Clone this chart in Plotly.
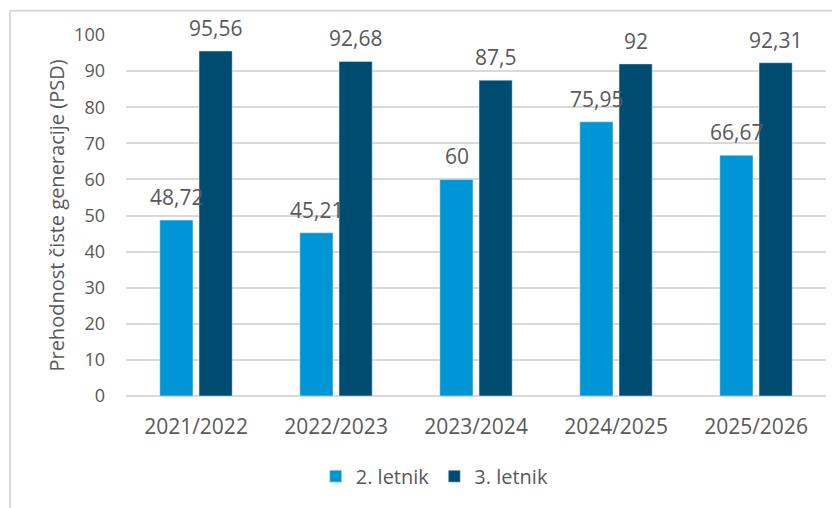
import plotly.graph_objects as go

# Data
years = ['2021/2022', '2022/2023', '2023/2024', '2024/2025', '2025/2026']
letnik_2 = [48.72, 45.21, 60, 75.95, 66.67]
letnik_3 = [95.56, 92.68, 87.5, 92, 92.31]
y_ticks = list(range(0, 101, 10))


def fmt(v):
    # Slovenian decimal comma, no trailing zeros
    s = f"{v:.2f}".rstrip('0').rstrip('.')
    return s.replace('.', ',')


GRID = '#D9D9D9'
TEXT = '#595959'
FONT = 'Open Sans, sans-serif'
C2 = '#0096D6'
C3 = '#004C71'

fig = go.Figure()

fig.add_trace(go.Bar(x=years, y=letnik_2, name='2. letnik', marker=dict(color=C2)))
fig.add_trace(go.Bar(x=years, y=letnik_3, name='3. letnik', marker=dict(color=C3)))

# data labels above each bar (Excel "outside end" style, a bit more padding)
for vals, dx in ((letnik_2, -19.5), (letnik_3, 19.5)):
    for yr, v in zip(years, vals):
        fig.add_annotation(x=yr, y=v, text=fmt(v), showarrow=False,
                           xshift=dx, yshift=23, yanchor='middle',
                           font=dict(size=21, color=TEXT, family=FONT))

# chart-area border (top and left edges visible in the crop)
fig.add_shape(type='line', xref='paper', yref='paper',
              x0=-0.1657, x1=-0.1657, y0=-0.35, y1=1.067,
              line=dict(color=GRID, width=2))
fig.add_shape(type='line', xref='paper', yref='paper',
              x0=-0.1657, x1=1.05, y0=1.067, y1=1.067,
              line=dict(color=GRID, width=2))

fig.update_layout(
    width=832, height=500,
    paper_bgcolor='white', plot_bgcolor='white',
    font=dict(family=FONT, color=TEXT, size=18),
    margin=dict(l=118, r=14, t=27, b=101),
    barmode='group', bargap=0.44, bargroupgap=0.154,
    xaxis=dict(
        showgrid=False, zeroline=False, showline=False,
        ticks='', ticklabelstandoff=16,
        tickfont=dict(size=21, color=TEXT),
    ),
    yaxis=dict(
        range=[0, 100], tickvals=y_ticks,
        showgrid=True, gridcolor=GRID, gridwidth=2,
        zeroline=True, zerolinecolor=GRID, zerolinewidth=2,
        ticks='', ticklabelstandoff=20,
        tickfont=dict(size=18, color=TEXT),
        title=dict(text='Prehodnost čiste generacije (PSD)', standoff=4,
                   font=dict(size=20, color=TEXT)),
    ),
    showlegend=True,
    legend=dict(orientation='h', x=0.441, xanchor='center',
                y=-0.222, yanchor='middle',
                font=dict(size=20, color=TEXT), itemwidth=30),
)

fig.write_html("out.html")
